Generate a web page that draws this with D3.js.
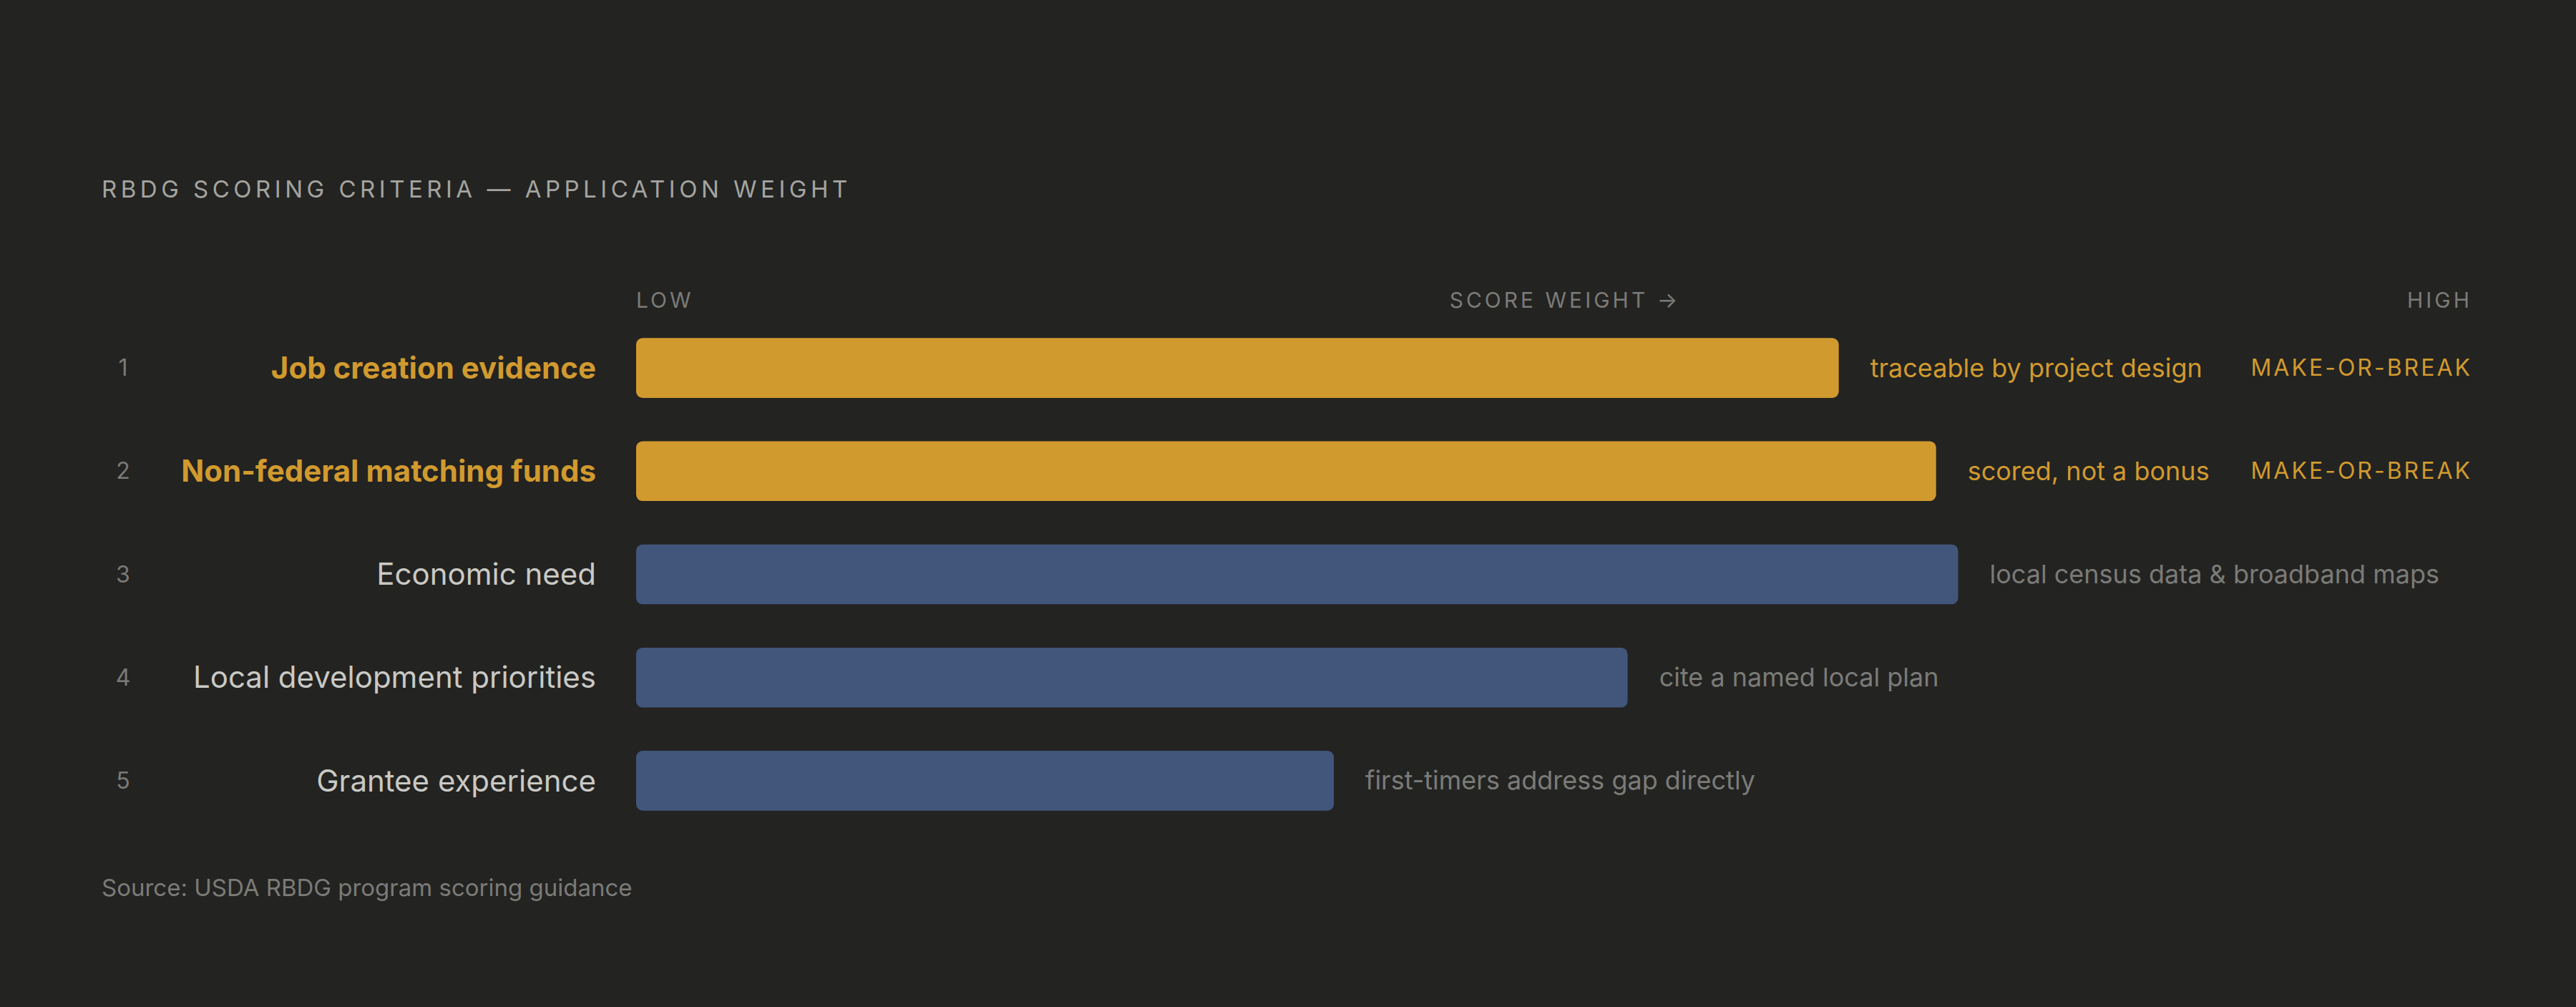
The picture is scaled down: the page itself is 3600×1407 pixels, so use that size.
<!DOCTYPE html>
<html><head><meta charset="utf-8">
<script src="https://cdn.jsdelivr.net/npm/d3@7"></script>
<style>
body{margin:0;background:#232321;}
text{font-family:Inter,"Noto Sans",sans-serif;}
</style></head>
<body><svg id="chart" width="3600" height="1407"></svg>
<script>
// chart data
const ranks = [1, 2, 3, 4, 5];
const criteria = ["Job creation evidence", "Non-federal matching funds", "Economic need", "Local development priorities", "Grantee experience"];
const weights = [65.5, 70.8, 72, 54, 38];
const notes = ["traceable by project design", "scored, not a bonus", "local census data & broadband maps", "cite a named local plan", "first-timers address gap directly"];
const critical = [true, true, false, false, false];
const tags = ["MAKE-OR-BREAK", "MAKE-OR-BREAK", "", "", ""];

const gold = "#d19a2f", blue = "#42567c", grey = "#7b7b78";
const svg = d3.select("#chart");
svg.append("rect").attr("width", 3600).attr("height", 1407).attr("fill", "#232321");

let x = d3.scaleLinear().domain([0, 100]).range([889, 3455]);
let y = d3.scaleBand().domain(ranks).range([442, 1163]).paddingInner(0.42).paddingOuter(0.21);

svg.append("text").attr("x", 142).attr("y", 276).text("RBDG SCORING CRITERIA — APPLICATION WEIGHT")
  .attr("fill", "#a4a4a0").attr("font-size", 33).attr("letter-spacing", 5.5);

// axis header
let hdr = [["LOW", x(0), "start"], ["SCORE WEIGHT →", (x(0) + x(100)) / 2 + 15, "middle"], ["HIGH", x(100), "end"]];
svg.selectAll(".hdr").data(hdr).join("text")
  .attr("x", d => d[1]).attr("y", 430).attr("text-anchor", d => d[2])
  .attr("fill", grey).attr("font-size", 30).attr("letter-spacing", 4).text(d => d[0]);

let rows = svg.selectAll(".row").data(ranks.map((r, i) => i)).join("g")
  .attr("transform", i => `translate(0,${y(ranks[i])})`);
let bh = y.bandwidth();

rows.append("rect").attr("x", x(0)).attr("y", 0).attr("height", bh).attr("rx", 9)
  .attr("width", i => x(weights[i]) - x(0)).attr("fill", i => critical[i] ? gold : blue);

rows.append("text").attr("x", 172).attr("y", bh / 2).attr("dy", "0.35em").attr("text-anchor", "middle")
  .attr("fill", grey).attr("font-size", 32).text(i => ranks[i]);

rows.append("text").attr("x", 833).attr("y", bh / 2).attr("dy", "0.35em").attr("text-anchor", "end")
  .attr("fill", i => critical[i] ? gold : "#c9c9c5").attr("font-weight", i => critical[i] ? 700 : 400)
  .attr("font-size", 42).text(i => criteria[i]);

rows.append("text").attr("x", i => x(weights[i]) + 44).attr("y", bh / 2).attr("dy", "0.35em")
  .attr("fill", i => critical[i] ? gold : grey).attr("font-size", 36).text(i => notes[i]);

rows.append("text").attr("x", x(100)).attr("y", bh / 2).attr("dy", "0.35em").attr("text-anchor", "end")
  .attr("fill", gold).attr("font-size", 32).attr("letter-spacing", 3).text(i => tags[i]);

svg.append("text").attr("x", 142).attr("y", 1252).text("Source: USDA RBDG program scoring guidance")
  .attr("fill", grey).attr("font-size", 33);
</script></body></html>
